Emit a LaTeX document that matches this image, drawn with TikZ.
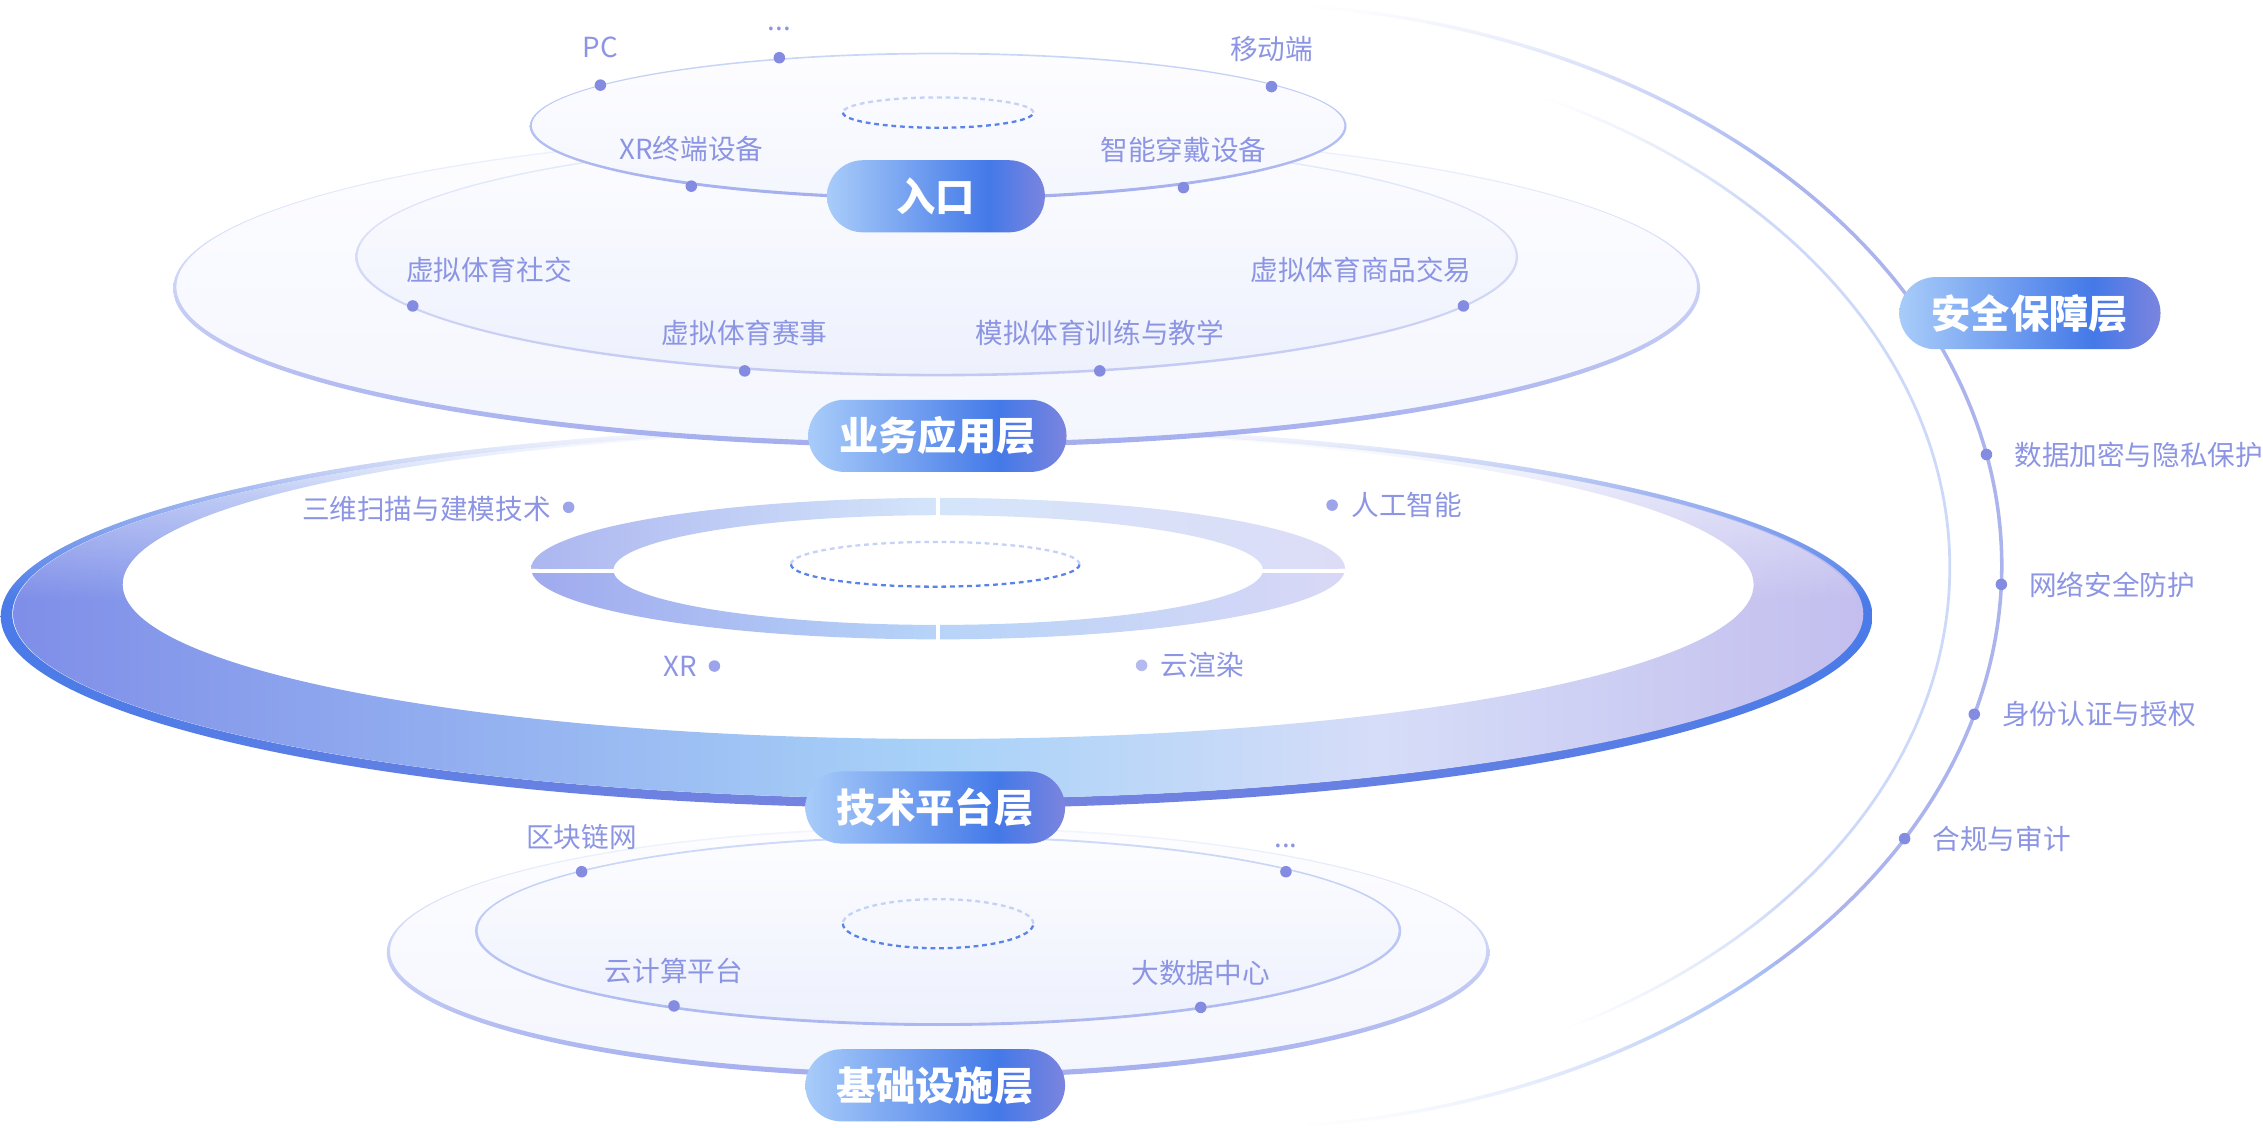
\documentclass[tikz,border=0pt]{standalone}
\usepackage{fontspec}
\setmainfont{Noto Sans CJK SC}
\usetikzlibrary{calc}
\usetikzlibrary{fadings}
\definecolor{blue1}{RGB}{68,121,232}
\definecolor{blue2}{RGB}{168,204,249}
\definecolor{purple1}{RGB}{123,132,222}
\definecolor{text1}{RGB}{140,149,228}
\definecolor{dot1}{RGB}{131,140,224}
\definecolor{dot2}{RGB}{156,164,234}
\definecolor{dot3}{RGB}{178,186,240}
\definecolor{ring1}{RGB}{127,142,232}
\definecolor{ring2}{RGB}{168,210,248}
\definecolor{ring3}{RGB}{214,221,248}
\definecolor{ring4}{RGB}{195,190,238}
\definecolor{rim1}{RGB}{74,123,232}
\definecolor{rim2}{RGB}{124,132,223}
\definecolor{donut1}{RGB}{160,170,238}
\definecolor{donut2}{RGB}{183,212,248}
\definecolor{donut3}{RGB}{217,215,246}
\definecolor{donut4}{RGB}{172,182,240}
\definecolor{donut5}{RGB}{212,229,250}
\definecolor{donut6}{RGB}{221,220,247}
\definecolor{dash1}{RGB}{90,131,233}
\definecolor{dash2}{RGB}{196,210,247}
\definecolor{edge1}{RGB}{164,174,238}
\definecolor{edge2}{RGB}{201,215,247}
\definecolor{edge3}{RGB}{242,246,254}
\definecolor{edge4}{RGB}{195,201,243}
\definecolor{edge5}{RGB}{232,238,252}
\definecolor{edge6}{RGB}{172,183,240}
\definecolor{edge7}{RGB}{206,219,248}
\definecolor{fill1}{RGB}{253,253,255}
\definecolor{fill2}{RGB}{244,246,254}
\definecolor{fill3}{RGB}{237,241,253}
\definecolor{sec1}{RGB}{163,179,239}
\definecolor{sec2}{RGB}{172,180,238}
\definecolor{sec3}{RGB}{160,186,244}
\definecolor{sec4}{RGB}{205,217,248}
\pgfdeclarehorizontalshading{pillshade}{100bp}{color(0bp)=(blue2); color(25bp)=(blue2); color(62bp)=(blue1); color(75bp)=(purple1); color(100bp)=(purple1)}
\pgfdeclarehorizontalshading{ringshade}{100bp}{color(0bp)=(ring1); color(25bp)=(ring1); color(50bp)=(ring2); color(62bp)=(ring3); color(75bp)=(ring4); color(100bp)=(ring4)}
\pgfdeclarehorizontalshading{rimshade}{100bp}{color(0bp)=(rim1); color(25bp)=(rim1); color(50bp)=(rim2); color(75bp)=(rim1); color(100bp)=(rim1)}
\pgfdeclarehorizontalshading{donutlow}{100bp}{color(0bp)=(donut1); color(25bp)=(donut1); color(50bp)=(donut2); color(75bp)=(donut3); color(100bp)=(donut3)}
\pgfdeclarehorizontalshading{donuttop}{100bp}{color(0bp)=(donut4); color(25bp)=(donut4); color(50bp)=(donut5); color(75bp)=(donut6); color(100bp)=(donut6)}
\pgfdeclareverticalshading{ringmask}{100bp}{color(0bp)=(white); color(25bp)=(white); color(52bp)=(white); color(66bp)=(white!55!black); color(75bp)=(black); color(100bp)=(black)}
\pgfdeclarefading{ringfade}{\pgfuseshading{ringmask}}
\tikzfading[name=fadetop, top color=transparent!100, bottom color=transparent!0]
\tikzfading[name=fadebottom, top color=transparent!0, bottom color=transparent!100]

\begin{document}
\begin{tikzpicture}[x=0.02cm, y=0.02cm,
  dot/.style={circle, fill=dot1, inner sep=0pt, minimum size=0.16cm},
  lbl/.style={text=text1, inner sep=0pt, font=\fontsize{10.9}{13}\selectfont},
  pill/.style={shade, shading=pillshade, rounded corners=0.5cm, minimum height=1cm, inner sep=0pt, text=white, font=\bfseries\fontsize{15.5}{18}\selectfont},
  dashline/.style={line width=0.9pt, dash pattern=on 1.9pt off 1.5pt},
  arcline/.style={line width=1.4pt}]
\useasboundingbox (0,0) rectangle (1568,781);
\coordinate (sc) at (850,389);
\coordinate (si) at (850,388);

% security arcs
\draw[arcline, sec1, path fading=fadetop] ($(sc)+(84:537 and 390)$) arc[start angle=84, end angle=45, x radius=537, y radius=390];
\draw[arcline, sec2] ($(sc)+(45:537 and 390)$) arc[start angle=45, end angle=-45, x radius=537, y radius=390];
\draw[arcline, sec3, path fading=fadebottom] ($(sc)+(-45:537 and 390)$) arc[start angle=-45, end angle=-84, x radius=537, y radius=390];
\draw[line width=1.1pt, sec4, path fading=fadetop] ($(si)+(64:501 and 362)$) arc[start angle=64, end angle=44, x radius=501, y radius=362];
\draw[line width=1.1pt, sec4] ($(si)+(44:501 and 362)$) arc[start angle=44, end angle=-40, x radius=501, y radius=362];
\draw[line width=1.1pt, sec4, path fading=fadebottom] ($(si)+(-40:501 and 362)$) arc[start angle=-40, end angle=-62, x radius=501, y radius=362];

% base layer
\shade[top color=fill1, bottom color=fill2] (650,121) ellipse[x radius=381, y radius=86];
\shade[even odd rule, top color=edge3, bottom color=edge1] (650,121) ellipse[x radius=382, y radius=87] (650,122.2) ellipse[x radius=379.8, y radius=84.6];
\shade[top color=fill1, bottom color=fill3] (650,136) ellipse[x radius=320, y radius=65];
\shade[even odd rule, top color=edge7, bottom color=edge6] (650,136) ellipse[x radius=320.9, y radius=65.9] (650,136.3) ellipse[x radius=319.1, y radius=64.2];

% technology ring
\path[shade, shading=rimshade, even odd rule, path fading=ringfade] (650,354) ellipse[x radius=649, y radius=133] (650,355.5) ellipse[x radius=641, y radius=128];
\path[shade, shading=ringshade, even odd rule, path fading=ringfade] (650,355.5) ellipse[x radius=641, y radius=128] (650,376) ellipse[x radius=565, y radius=107];
\path[shade, shading=donuttop] (932,387) arc[start angle=0, end angle=180, x radius=282, y radius=49] -- (425,386) arc[start angle=180, end angle=0, x radius=225, y radius=38] -- cycle;
\path[shade, shading=donutlow] (368,387) arc[start angle=180, end angle=360, x radius=282, y radius=49] -- (875,386) arc[start angle=0, end angle=-180, x radius=225, y radius=38] -- cycle;
\draw[white, line width=1.7pt] (650,440) -- (650,420);
\draw[white, line width=1.7pt] (650,352) -- (650,334);
\draw[white, line width=1.4pt] (365,385.5) -- (428,385.5);
\draw[white, line width=1.4pt] (872,385.5) -- (935,385.5);

% business layer
\shade[top color=fill1, bottom color=fill2] (649,581) ellipse[x radius=528, y radius=109];
\shade[even odd rule, top color=edge3, bottom color=edge1] (649,581) ellipse[x radius=529, y radius=110] (649,582.2) ellipse[x radius=526.8, y radius=107.6];
\shade[top color=fill1, bottom color=fill3] (649,603) ellipse[x radius=402, y radius=82];
\shade[even odd rule, top color=edge5, bottom color=edge4] (649,603) ellipse[x radius=402.8, y radius=82.8] (649,603.3) ellipse[x radius=401.2, y radius=81.3];

% entry layer
\shade[top color=fill1, bottom color=fill2] (650,693.5) ellipse[x radius=282, y radius=50];
\shade[even odd rule, top color=edge2, bottom color=edge1] (650,693.5) ellipse[x radius=283, y radius=51] (650,694) ellipse[x radius=281.5, y radius=49.3];

% dashed cores
\foreach \x/\y/\a/\b in {650/703/66/10.5, 648/390/100/15.5, 650/141/66/17} {
  \draw[dashline, dash2] (\x+\a,\y) arc[start angle=0, end angle=180, x radius=\a, y radius=\b];
  \draw[dashline, dash1] (\x-\a,\y) arc[start angle=180, end angle=360, x radius=\a, y radius=\b];
}

% points and texts
\foreach \n/\x/\y/\c/\a/\dx/\dy/\t in {
  e1/416/722/dot1/center/0/26/PC, e3/881/721/dot1/center/0/26/移动端,
  e4/479/652/dot1/center/0/26/XR终端设备, e5/820/651/dot1/center/0/26/智能穿戴设备,
  b1/286/569/dot1/west/-5/25/虚拟体育社交, b2/516/524/dot1/center/0/26/虚拟体育赛事,
  b3/762/524/dot1/center/0/26/模拟体育训练与教学, b4/1014/569/dot1/east/6/25/虚拟体育商品交易,
  t1/394/429.5/dot2/east/-12/-1/三维扫描与建模技术, t2/923/431/dot2/west/13/0/人工智能,
  t3/495/319.5/dot2/east/-12/0/XR, t4/791/320/dot3/west/13/0/云渲染,
  f1/403/177/dot1/center/0/24/区块链网, f3/467/84/dot1/center/0/24/云计算平台,
  f4/832/83/dot1/center/0/24/大数据中心}
{
  \node[dot, fill=\c] (\n) at (\x,\y) {};
  \node[lbl, anchor=\a] (\n-t) at ($(\n)+(\dx,\dy)$) {\t};
}
\node[dot] (e2) at (540,741) {};
\node[lbl, anchor=base] (e2-t) at ($(e2)+(0,19)$) {...};
\node[dot] (f2) at (891,177) {};
\node[lbl, anchor=base] (f2-t) at ($(f2)+(0,17)$) {...};
\foreach \n/\ang/\t in {s1/11.4/数据加密与隐私保护, s2/-1.9/网络安全防护, s3/-15.3/身份认证与授权, s4/-29/合规与审计}
{
  \node[dot] (\n) at ($(sc)+(\ang:537 and 390)$) {};
  \node[lbl, anchor=west] (\n-t) at ($(\n)+(19,0)$) {\t};
}

% layer titles
\node[pill, minimum width=3.02cm] (entry) at (648.5,645) {入口};
\node[pill, minimum width=3.58cm] (biz) at (649.5,479) {业务应用层};
\node[pill, minimum width=3.6cm] (tech) at (648,221.5) {技术平台层};
\node[pill, minimum width=3.6cm] (base) at (648,29) {基础设施层};
\node[pill, minimum width=3.62cm] (sec) at (1406.5,564) {安全保障层};
\end{tikzpicture}
\end{document}
